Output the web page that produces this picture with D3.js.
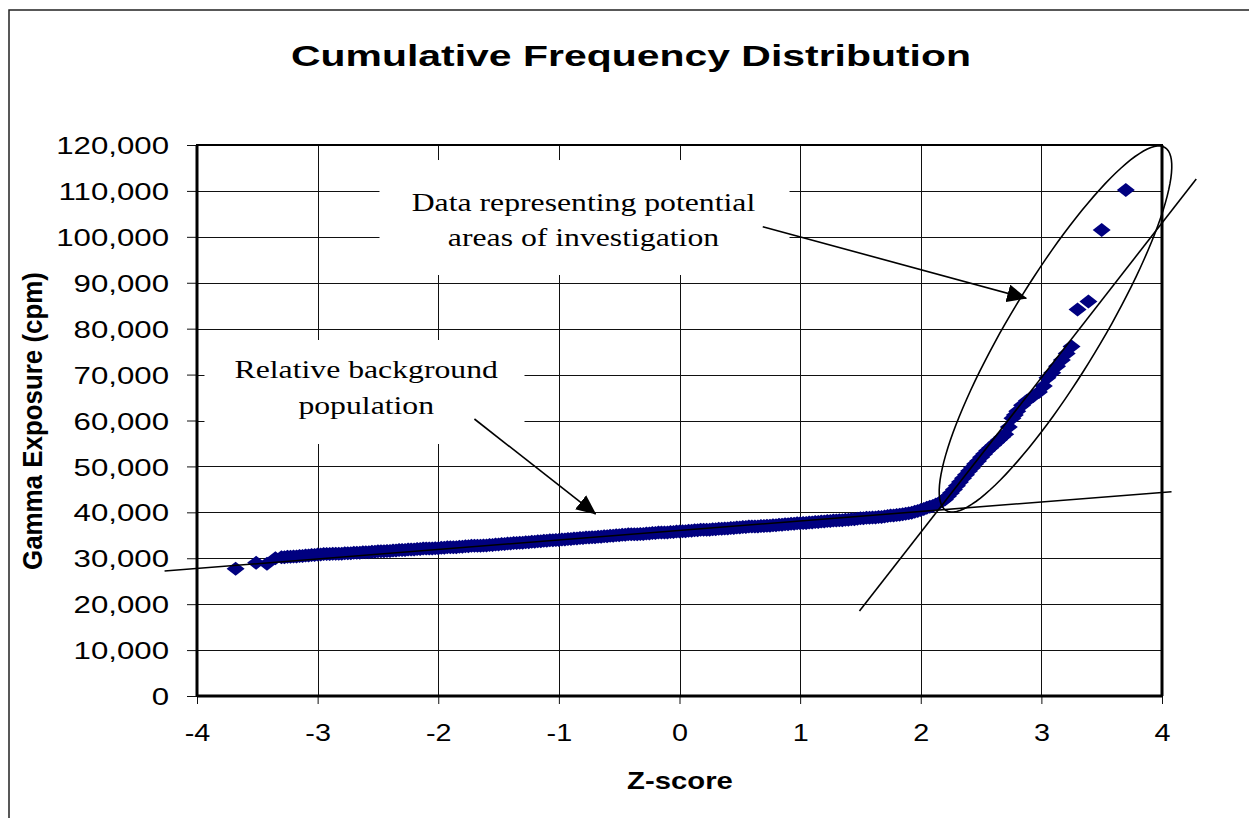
<!DOCTYPE html>
<html>
<head>
<meta charset="utf-8">
<script src="https://cdn.jsdelivr.net/npm/d3@7"></script>
<style>
  body { margin: 0; background: #fff; }
  svg { display: block; }
</style>
</head>
<body>
<div id="chart"></div>
<script>
// Z-score of each sample
var zScores = [
  -3.68, -3.51, -3.42, -3.35,
  -3.300, -3.275, -3.250, -3.225, -3.200, -3.175, -3.150, -3.125,
  -3.100, -3.075, -3.050, -3.025, -3.000, -2.975, -2.950, -2.925,
  -2.900, -2.875, -2.850, -2.825, -2.800, -2.775, -2.750, -2.725,
  -2.700, -2.675, -2.650, -2.625, -2.600, -2.575, -2.550, -2.525,
  -2.500, -2.475, -2.450, -2.425, -2.400, -2.375, -2.350, -2.325,
  -2.300, -2.275, -2.250, -2.225, -2.200, -2.175, -2.150, -2.125,
  -2.100, -2.075, -2.050, -2.025, -2.000, -1.975, -1.950, -1.925,
  -1.900, -1.875, -1.850, -1.825, -1.800, -1.775, -1.750, -1.725,
  -1.700, -1.675, -1.650, -1.625, -1.600, -1.575, -1.550, -1.525,
  -1.500, -1.475, -1.450, -1.425, -1.400, -1.375, -1.350, -1.325,
  -1.300, -1.275, -1.250, -1.225, -1.200, -1.175, -1.150, -1.125,
  -1.100, -1.075, -1.050, -1.025, -1.000, -0.975, -0.950, -0.925,
  -0.900, -0.875, -0.850, -0.825, -0.800, -0.775, -0.750, -0.725,
  -0.700, -0.675, -0.650, -0.625, -0.600, -0.575, -0.550, -0.525,
  -0.500, -0.475, -0.450, -0.425, -0.400, -0.375, -0.350, -0.325,
  -0.300, -0.275, -0.250, -0.225, -0.200, -0.175, -0.150, -0.125,
  -0.100, -0.075, -0.050, -0.025, 0.000, 0.025, 0.050, 0.075,
  0.100, 0.125, 0.150, 0.175, 0.200, 0.225, 0.250, 0.275,
  0.300, 0.325, 0.350, 0.375, 0.400, 0.425, 0.450, 0.475,
  0.500, 0.525, 0.550, 0.575, 0.600, 0.625, 0.650, 0.675,
  0.700, 0.725, 0.750, 0.775, 0.800, 0.825, 0.850, 0.875,
  0.900, 0.925, 0.950, 0.975, 1.000, 1.025, 1.050, 1.075,
  1.100, 1.125, 1.150, 1.175, 1.200, 1.225, 1.250, 1.275,
  1.300, 1.325, 1.350, 1.375, 1.400, 1.425, 1.450, 1.475,
  1.500, 1.525, 1.550, 1.575, 1.600, 1.625, 1.650, 1.675,
  1.700, 1.725, 1.750, 1.775, 1.800, 1.825, 1.850, 1.875,
  1.900, 1.925, 1.950, 1.975, 2.000, 2.025, 2.050, 2.075,
  2.100, 2.125, 2.150, 2.175, 2.200, 2.225, 2.250, 2.275,
  2.300, 2.325, 2.350, 2.375, 2.400, 2.425, 2.450, 2.475,
  2.500, 2.525, 2.550, 2.575, 2.600, 2.625, 2.650, 2.675,
  2.700, 2.730, 2.760, 2.780, 2.800, 2.840, 2.880, 2.930,
  2.980, 3.020, 3.050, 3.090, 3.130, 3.170, 3.210, 3.250,
  3.300, 3.390, 3.500, 3.700
];
// gamma exposure (cpm) of each sample, same order
var gamma = [
  27700, 29000, 28800, 30000,
  30200, 30200, 30300, 30300, 30400, 30400, 30500, 30500,
  30600, 30600, 30700, 30700, 30800, 30800, 30900, 30900,
  30900, 31000, 31000, 31000, 31000, 31100, 31100, 31100,
  31200, 31200, 31200, 31300, 31300, 31300, 31400, 31400,
  31500, 31500, 31500, 31600, 31600, 31700, 31700, 31800,
  31800, 31800, 31900, 31900, 31900, 32000, 32000, 32100,
  32100, 32100, 32100, 32200, 32200, 32300, 32300, 32400,
  32400, 32400, 32400, 32500, 32500, 32600, 32600, 32700,
  32700, 32700, 32700, 32800, 32800, 32900, 32900, 33000,
  33000, 33100, 33100, 33200, 33200, 33300, 33300, 33400,
  33400, 33500, 33500, 33600, 33600, 33700, 33700, 33800,
  33800, 33900, 33900, 34000, 34000, 34100, 34100, 34200,
  34200, 34300, 34300, 34400, 34400, 34500, 34500, 34600,
  34600, 34700, 34700, 34800, 34800, 34900, 34900, 35000,
  35000, 35100, 35100, 35200, 35200, 35200, 35200, 35300,
  35300, 35400, 35400, 35500, 35500, 35600, 35600, 35600,
  35600, 35700, 35700, 35800, 35800, 35900, 35900, 36000,
  36000, 36100, 36100, 36200, 36200, 36200, 36200, 36300,
  36300, 36400, 36400, 36500, 36500, 36600, 36600, 36700,
  36700, 36800, 36800, 36900, 36900, 36900, 36900, 37000,
  37000, 37100, 37100, 37200, 37200, 37300, 37300, 37400,
  37400, 37500, 37500, 37600, 37600, 37700, 37700, 37800,
  37800, 37900, 37900, 38000, 38000, 38100, 38100, 38200,
  38200, 38300, 38300, 38400, 38400, 38500, 38500, 38600,
  38700, 38700, 38800, 38800, 38900, 38900, 39000, 39000,
  39100, 39200, 39300, 39300, 39400, 39500, 39600, 39700,
  39800, 39900, 40100, 40300, 40500, 40700, 41000, 41200,
  41400, 41700, 42000, 42400, 42800, 43500, 44200, 45000,
  45800, 46600, 47400, 48200, 49000, 49700, 50500, 51200,
  52000, 52700, 53400, 54000, 54600, 55200, 55800, 56400,
  57000, 58600, 60500, 61200, 62000, 63300, 64300, 65300,
  66200, 67500, 69300, 70400, 71800, 73200, 74600, 76100,
  84200, 85900, 101500, 110200
];

var xTicks = [-4, -3, -2, -1, 0, 1, 2, 3, 4];
var yTicks = [0, 10000, 20000, 30000, 40000, 50000, 60000, 70000, 80000, 90000, 100000, 110000, 120000];

// hand drawn trend lines [z, cpm]
var backgroundLine = [[-4.269, 27223], [4.079, 44493]];
var anomalyLine = [[1.492, 18512], [4.284, 112594]];

// ellipse round the outliers: centre, end of long axis, end of short axis
var ellipseCentre = [3.117, 79927];
var ellipseMajor = [4.024, 119455];
var ellipseMinor = [3.444, 74765];

// callouts
var calloutText1 = ["Data representing potential", "areas of investigation"];
var calloutPos1 = [[-0.796, 105692], [-0.796, 98112]];
var calloutBox1 = [[-2.487, 116730], [0.912, 91687]];
var calloutArrow1 = [[0.69, 102207], [2.874, 86613]];

var calloutText2 = ["Relative background", "population"];
var calloutPos2 = [[-2.597, 69255], [-2.597, 61415]];
var calloutBox2 = [[-3.938, 77531], [-1.285, 54882]];
var calloutArrow2 = [[-1.70, 60326], [-0.696, 39637]];

var W = 1249, H = 818;
var margin = { top: 145, right: 87, bottom: 122, left: 197 },
    width = W - margin.left - margin.right,
    height = H - margin.top - margin.bottom;

var svg = d3.select("#chart").append("svg")
    .attr("width", W)
    .attr("height", H);

// the picture is stretched sideways, so is its lettering
function stretch(sel, k) {
    sel.each(function () {
        var w = this.getComputedTextLength();
        d3.select(this).attr("textLength", w * k).attr("lengthAdjust", "spacingAndGlyphs");
    });
}

// outer frame
svg.append("rect")
    .attr("x", 9).attr("y", 10)
    .attr("width", W + 20).attr("height", H + 20)
    .attr("fill", "none")
    .attr("stroke", "#222")
    .attr("stroke-width", 1.5);

svg.append("text")
    .attr("x", 631).attr("y", 66)
    .attr("text-anchor", "middle")
    .style("font-family", "Arial, 'Liberation Sans', sans-serif")
    .style("font-weight", "bold")
    .style("font-size", "29px")
    .attr("textLength", 680)
    .attr("lengthAdjust", "spacingAndGlyphs")
    .text("Cumulative Frequency Distribution");

var g = svg.append("g")
    .attr("transform", "translate(" + margin.left + "," + margin.top + ")");

var x = d3.scaleLinear().domain([-4, 4]).range([0, width]);
var y = d3.scaleLinear().domain([0, 120000]).range([height, 0]);

// grid
g.append("g").selectAll("line").data(yTicks).enter().append("line")
    .attr("x1", 0).attr("x2", width)
    .attr("y1", function (d) { return Math.round(y(d)) + 0.5; })
    .attr("y2", function (d) { return Math.round(y(d)) + 0.5; })
    .attr("stroke", "#111").attr("stroke-width", 1);
g.append("g").selectAll("line").data(xTicks).enter().append("line")
    .attr("y1", 0).attr("y2", height)
    .attr("x1", function (d) { return Math.round(x(d)) + 0.5; })
    .attr("x2", function (d) { return Math.round(x(d)) + 0.5; })
    .attr("stroke", "#111").attr("stroke-width", 1);

// axes
var yAxis = g.append("g")
    .call(d3.axisLeft(y).tickValues(yTicks).tickSize(10).tickPadding(18).tickFormat(d3.format(",")));
var xAxis = g.append("g")
    .attr("transform", "translate(0," + height + ")")
    .call(d3.axisBottom(x).tickValues(xTicks).tickSize(8).tickPadding(21).tickFormat(function (d) { return String(d); }));

[yAxis, xAxis].forEach(function (ax) {
    ax.select(".domain").remove();
    ax.selectAll(".tick line").attr("stroke", "#111");
    ax.selectAll("text")
        .style("font-family", "Arial, 'Liberation Sans', sans-serif")
        .style("font-size", "24px")
        .attr("fill", "#000");
});
yAxis.selectAll("text").attr("dy", "0.36em").call(stretch, 1.3);
xAxis.selectAll("text").style("font-size", "23px").attr("dy", "0.71em").call(stretch, 1.25);

// plot frame
g.append("rect")
    .attr("width", width).attr("height", height)
    .attr("fill", "none").attr("stroke", "#000").attr("stroke-width", 2);
g.append("line").attr("x1", 0).attr("x2", 0).attr("y1", 0).attr("y2", height)
    .attr("stroke", "#000").attr("stroke-width", 3);
g.append("line").attr("x1", 0).attr("x2", width).attr("y1", height).attr("y2", height)
    .attr("stroke", "#000").attr("stroke-width", 3);
g.append("line").attr("x1", width).attr("x2", width).attr("y1", 0).attr("y2", height)
    .attr("stroke", "#000").attr("stroke-width", 3);

// axis titles
svg.append("text")
    .attr("transform", "translate(42,421) rotate(-90)")
    .attr("text-anchor", "middle")
    .style("font-family", "Arial, 'Liberation Sans', sans-serif")
    .style("font-weight", "bold")
    .style("font-size", "28px")
    .attr("textLength", 298)
    .attr("lengthAdjust", "spacingAndGlyphs")
    .text("Gamma Exposure (cpm)");

svg.append("text")
    .attr("x", 680).attr("y", 789)
    .attr("text-anchor", "middle")
    .style("font-family", "Arial, 'Liberation Sans', sans-serif")
    .style("font-weight", "bold")
    .style("font-size", "24px")
    .text("Z-score")
    .call(stretch, 1.22);

// callout boxes hide the grid behind their text
[calloutBox1, calloutBox2].forEach(function (b) {
    g.append("rect")
        .attr("x", x(b[0][0])).attr("y", y(b[0][1]))
        .attr("width", x(b[1][0]) - x(b[0][0]))
        .attr("height", y(b[1][1]) - y(b[0][1]))
        .attr("fill", "#fff");
});

// samples
var diamond = "M0,-7L9,0L0,7L-9,0Z";
g.append("g").selectAll("path").data(zScores).enter().append("path")
    .attr("d", diamond)
    .attr("transform", function (d, i) { return "translate(" + x(d) + "," + y(gamma[i]) + ")"; })
    .attr("fill", "#000080");

// trend lines
var line = d3.line().x(function (d) { return x(d[0]); }).y(function (d) { return y(d[1]); });
[backgroundLine, anomalyLine].forEach(function (l) {
    g.append("path").attr("d", line(l))
        .attr("fill", "none").attr("stroke", "#000").attr("stroke-width", 1.6);
});

// ellipse
var cx = x(ellipseCentre[0]), cy = y(ellipseCentre[1]);
var ax = x(ellipseMajor[0]) - cx, ay = y(ellipseMajor[1]) - cy;
var bx = x(ellipseMinor[0]) - cx, by = y(ellipseMinor[1]) - cy;
var ring = d3.range(0, 121).map(function (i) {
    var t = i / 120 * 2 * Math.PI;
    return [cx + ax * Math.cos(t) + bx * Math.sin(t), cy + ay * Math.cos(t) + by * Math.sin(t)];
});
g.append("path").attr("d", d3.line()(ring))
    .attr("fill", "none").attr("stroke", "#000").attr("stroke-width", 1.6);

// arrows
svg.append("defs").append("marker")
    .attr("id", "head")
    .attr("viewBox", "0 0 20 18")
    .attr("markerUnits", "userSpaceOnUse")
    .attr("markerWidth", 20).attr("markerHeight", 18)
    .attr("refX", 19).attr("refY", 9)
    .attr("orient", "auto")
    .append("path").attr("d", "M0,0L20,9L0,18Z").attr("fill", "#000");

[calloutArrow1, calloutArrow2].forEach(function (a) {
    g.append("path").attr("d", line(a))
        .attr("fill", "none").attr("stroke", "#000").attr("stroke-width", 1.6)
        .attr("marker-end", "url(#head)");
});

// callout text
[[calloutText1, calloutPos1], [calloutText2, calloutPos2]].forEach(function (c) {
    c[0].forEach(function (t, i) {
        g.append("text")
            .attr("x", x(c[1][i][0])).attr("y", y(c[1][i][1]))
            .attr("text-anchor", "middle")
            .style("font-family", "'Times New Roman', 'Liberation Serif', serif")
            .style("font-size", "26px")
            .text(t)
            .call(stretch, 1.22);
    });
});
</script>
</body>
</html>
